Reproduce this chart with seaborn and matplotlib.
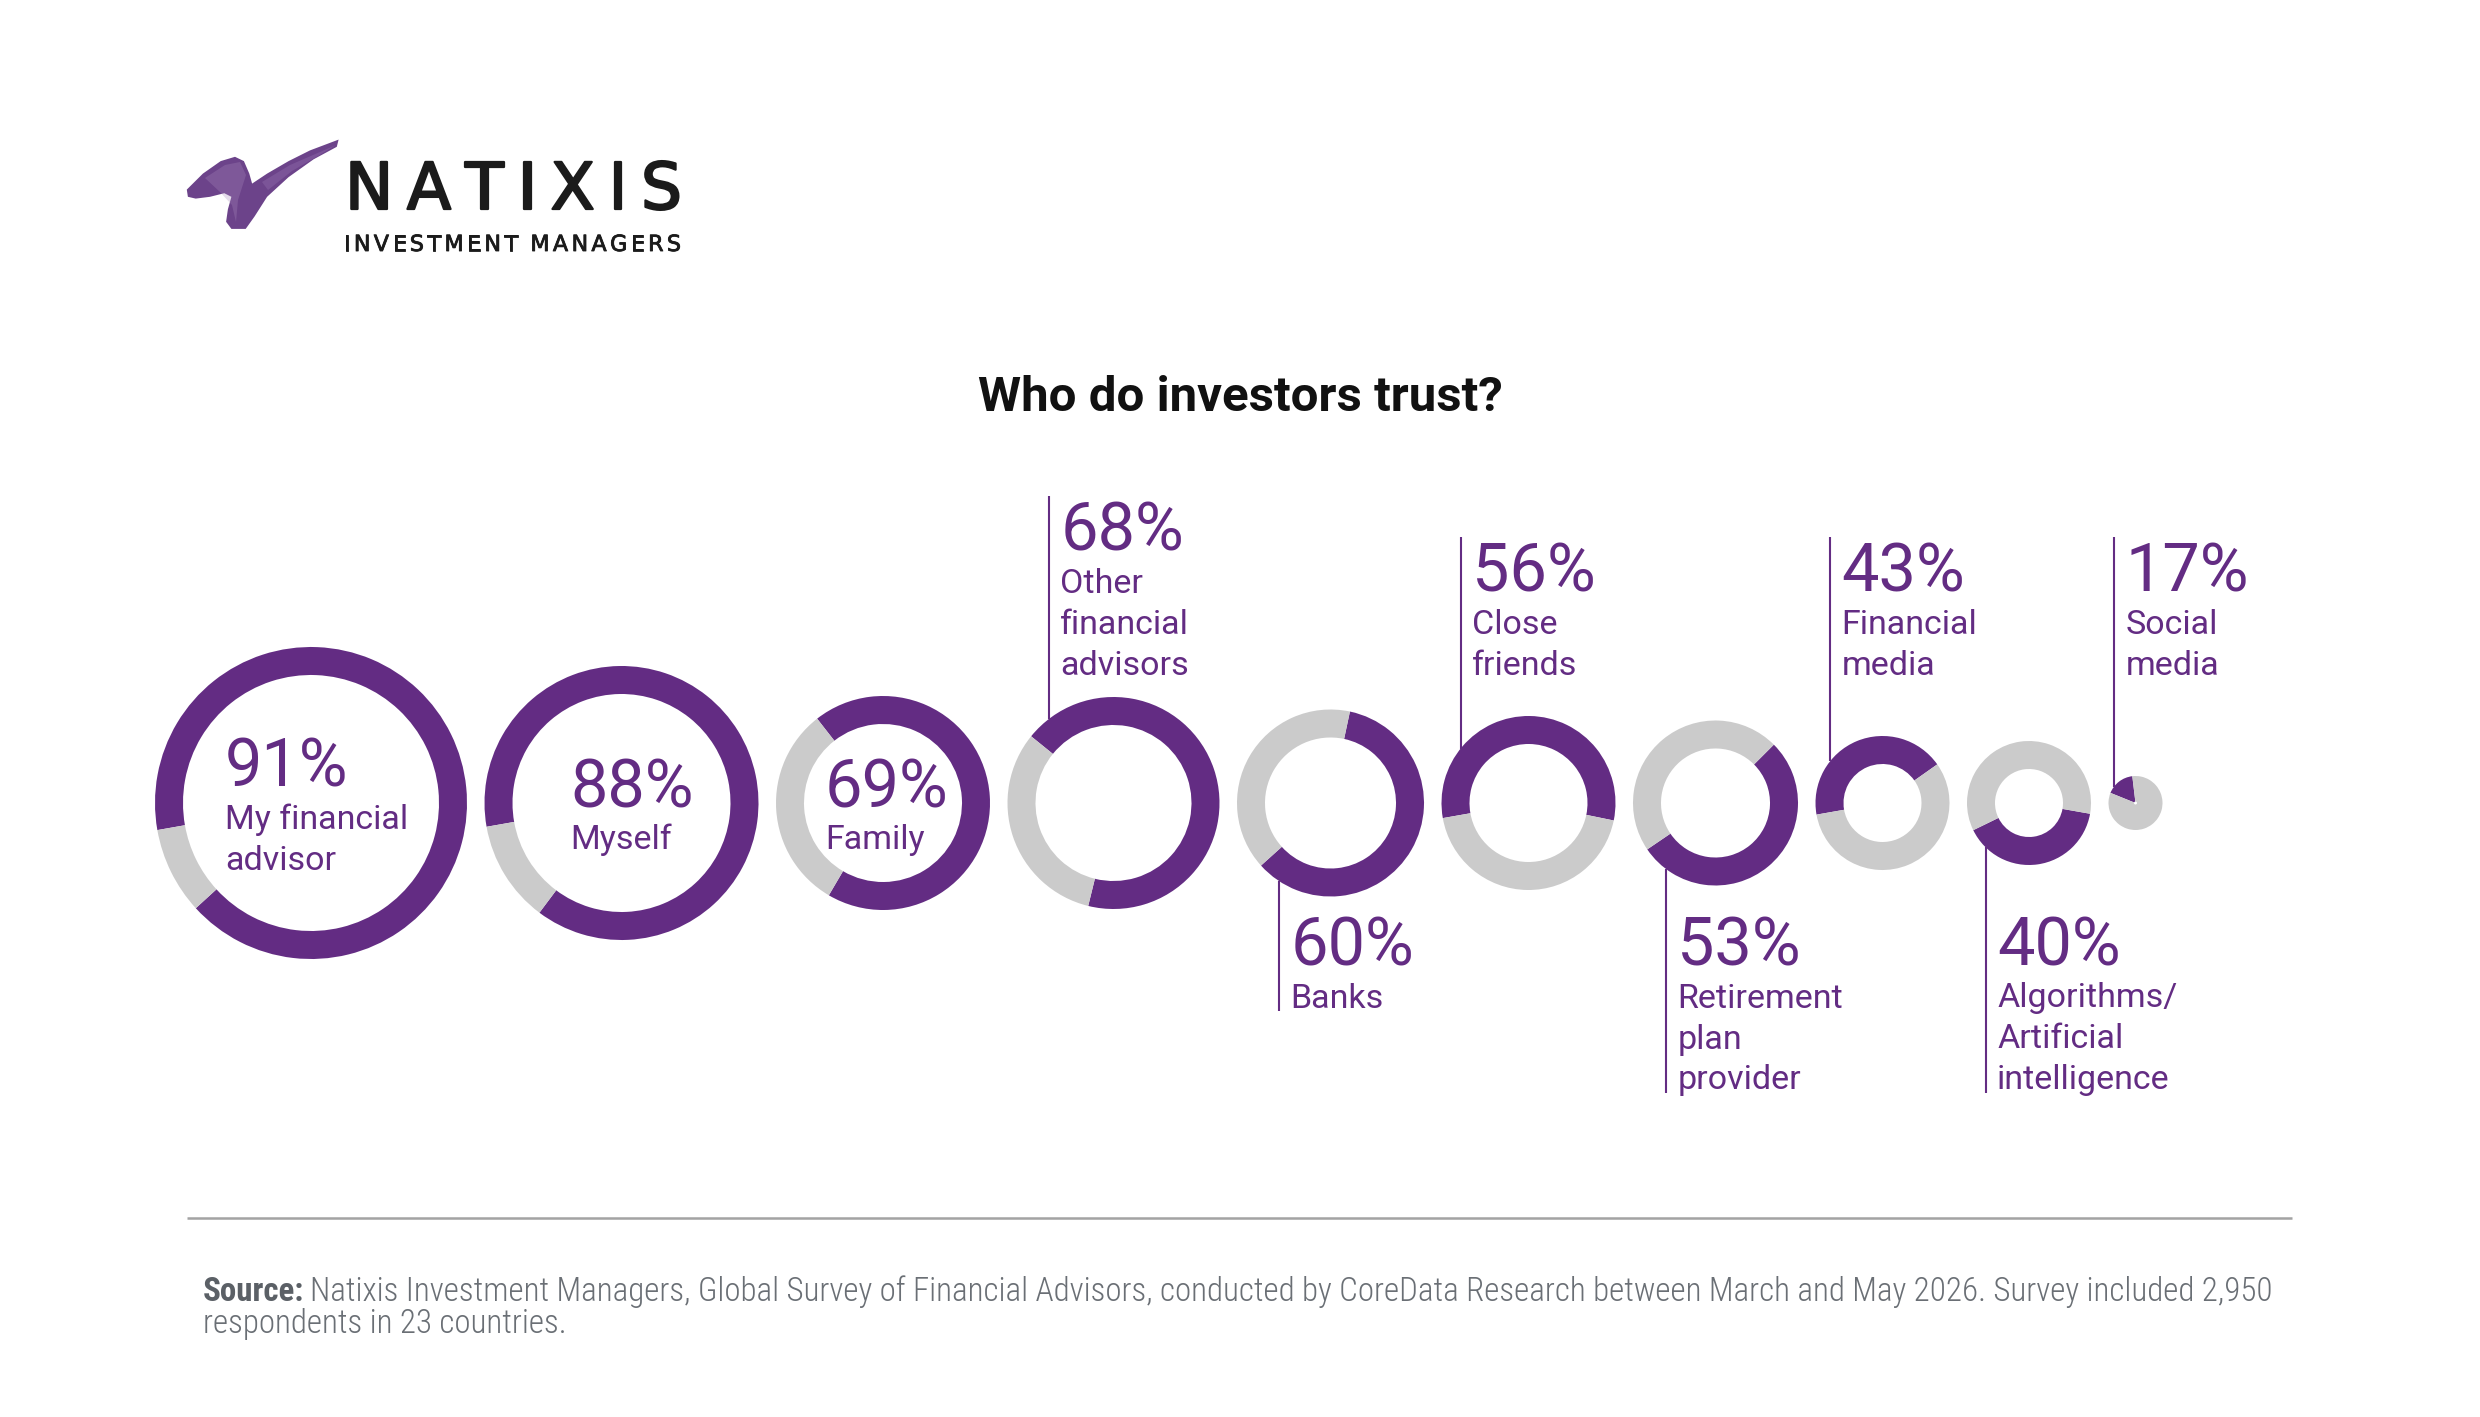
import numpy as np
import matplotlib
matplotlib.use('Agg')
import matplotlib.pyplot as plt
import matplotlib.patheffects as pe
from matplotlib import font_manager
from matplotlib.patches import Polygon
import seaborn as sns

# data
labels = ['My financial\nadvisor', 'Myself', 'Family', 'Other\nfinancial\nadvisors', 'Banks',
          'Close\nfriends', 'Retirement\nplan\nprovider', 'Financial\nmedia',
          'Algorithms/\nArtificial\nintelligence', 'Social\nmedia']
trust = [91, 88, 69, 68, 60, 56, 53, 43, 40, 17]
label_place = ['inside', 'inside', 'inside', 'above', 'below', 'above', 'below', 'above', 'below', 'above']

title = 'Who do investors trust?'
source_bold = 'Source:'
source_lines = ['Natixis Investment Managers, Global Survey of Financial Advisors, conducted by CoreData '
                'Research between March and May 2026. Survey included 2,950',
                'respondents in 23 countries.']

# layout (pixels)
W, H = 2480, 1417
ring_radius = [156, 137, 107, 106, 93.5, 87, 82.5, 67, 62, 27]
start_angle = [190, 190, 128, 141, 78, 190, 45, 190, -10, 158]
leader_dx = [0, 0, 0, -0.61, -0.55, -0.78, -0.60, -0.78, -0.70, -0.80]
inner_dx = [-86, -51, -58]
ring_width = 28
ring_gap = 17.5
first_left = 155
ring_cy = 803

purple = '#632c83'
grey = '#cbcbcb'

sns.set_theme(style='white')
plt.rcParams['font.family'] = ['Roboto', 'DejaVu Sans']
names = {f.name for f in font_manager.fontManager.ttflist}


def Y(y):
    return H - y


fig = plt.figure(figsize=(W / 100, H / 100), dpi=100)
ax = fig.add_axes([0, 0, 1, 1])
r = fig.canvas.get_renderer()

# donut centres packed left to right
centers = []
x = first_left
for R in ring_radius:
    centers.append(x + R)
    x += 2 * R + ring_gap

for i, v in enumerate(trust):
    R = ring_radius[i]
    ax.pie([v, 100 - v], colors=[purple, grey], startangle=start_angle[i], counterclock=False,
           radius=R, center=(centers[i], Y(ring_cy)), frame=True,
           wedgeprops=dict(width=min(ring_width, R - 1.5), linewidth=0))

# pixel coordinates from here on
ax.set_xlim(0, W)
ax.set_ylim(0, H)
ax.set_aspect('auto')
ax.axis('off')

pct_size, lab_size = 48, 24.5
line_gap, pct_gap, pct_cap = 41, 42.5, 49
top_last_base, bottom_pct_base = 675, 965

for i, (v, lab, place) in enumerate(zip(trust, labels, label_place)):
    cx, R = centers[i], ring_radius[i]
    lines = lab.split('\n')
    n = len(lines)
    if place == 'inside':
        xt = cx + inner_dx[i]
        base = ring_cy - (line_gap * n - pct_cap) / 2
    else:
        xl = cx + leader_dx[i] * R
        dy = np.sqrt(R ** 2 - (leader_dx[i] * R) ** 2)
        xt = xl + 11.5
        if place == 'above':
            base = top_last_base - line_gap * (n - 1) - pct_gap
            y0, y1 = base - 55, ring_cy - dy
        else:
            base = bottom_pct_base
            y0, y1 = ring_cy + dy, base + pct_gap + line_gap * (n - 1) + 3
        ax.plot([xl, xl], [Y(y0), Y(y1)], color=purple, lw=1.5, solid_capstyle='butt')
    ax.text(xt, Y(base), f'{v}%', fontsize=pct_size, color=purple, ha='left', va='baseline')
    for k, ln in enumerate(lines):
        ax.text(xt, Y(base + pct_gap + line_gap * k), ln, fontsize=lab_size, color=purple,
                ha='left', va='baseline')

ax.text(W / 2, Y(410.7), title, fontsize=35.5, fontweight='bold', color='#111111',
        ha='center', va='baseline')

# rule and source
ax.plot([187, 2292], [Y(1218), Y(1218)], color='#a3a3a3', lw=1.8, solid_capstyle='butt')
src_font = ['Roboto Condensed', 'Roboto'] if 'Roboto Condensed' in names else ['Roboto']
src_size = 25.7
sb = ax.text(203, Y(1301), source_bold, fontsize=src_size, fontweight='bold', color='#5b6066',
             family=src_font, ha='left', va='baseline')
bx = sb.get_window_extent(r).x1 + 7
s1 = ax.text(bx, Y(1301), source_lines[0], fontsize=src_size, color='#6a6f75', family=src_font,
             fontweight='light', ha='left', va='baseline')
wid = s1.get_window_extent(r).x1 - 203
scale = (2268 - 203) / wid
if scale < 0.98:
    src_size *= scale
    sb.set_fontsize(src_size)
    s1.set_fontsize(src_size)
    s1.set_x(sb.get_window_extent(r).x1 + 6)
ax.text(203, Y(1332.5), source_lines[1], fontsize=src_size, color='#6a6f75', family=src_font,
        fontweight='light', ha='left', va='baseline')


# logo
def tracked(s, x0, x1, base, size, **kw):
    items, widths = [], []
    for ch in s:
        t = ax.text(0, Y(base), ch, fontsize=size, ha='left', va='baseline', **kw)
        w = t.get_window_extent(r).width if ch != ' ' else size * 0.35
        items.append(t)
        widths.append(w)
    gap = (x1 - x0 - sum(widths)) / (len(s) - 1)
    xx = x0
    for t, w in zip(items, widths):
        t.set_x(xx)
        xx += w + gap


logo_font = ['DejaVu Sans']
tracked('NATIXIS', 345, 682, 209, 46.5, color='#1b1b1b', family=logo_font,
        path_effects=[pe.withStroke(linewidth=1.6, foreground='#1b1b1b')])
tracked('INVESTMENT MANAGERS', 344, 681, 251, 16, color='#1b1b1b', family=logo_font,
        path_effects=[pe.withStroke(linewidth=0.6, foreground='#1b1b1b')])

brush = [(186.8, 189.6), (202.9, 173.6), (220.7, 161.1), (235, 156.8), (243.9, 161.1),
         (249.3, 173.6), (252.1, 183.6), (267.1, 173.6), (288.6, 161.1), (310, 150.4),
         (338.6, 139.6), (336.8, 146.8), (313.6, 159.3), (288.6, 177.1), (267.1, 196.8),
         (254.6, 216.4), (245.7, 228.9), (231.4, 228.9), (226.1, 221.8), (227.9, 209.3),
         (231.4, 196.8), (224.3, 193.2), (210, 196.8), (195.7, 198.6), (187.9, 196.8)]
ax.add_patch(Polygon([(px, Y(py)) for px, py in brush], closed=True, facecolor='#5f3380',
                     edgecolor='none', alpha=0.92))
glow = [(205, 178), (225, 165), (240, 162), (246, 175), (238, 200), (236, 222), (232, 205), (220, 192)]
ax.add_patch(Polygon([(px, Y(py)) for px, py in glow], closed=True, facecolor='#a98bbd',
                     edgecolor='none', alpha=0.3))
streak = [(262, 182), (290, 165), (320, 152), (336, 145), (318, 156), (292, 171), (268, 190)]
ax.add_patch(Polygon([(px, Y(py)) for px, py in streak], closed=True, facecolor='#8a66a6',
                     edgecolor='none', alpha=0.5))

fig.savefig('out.png', dpi=100, facecolor='white')
